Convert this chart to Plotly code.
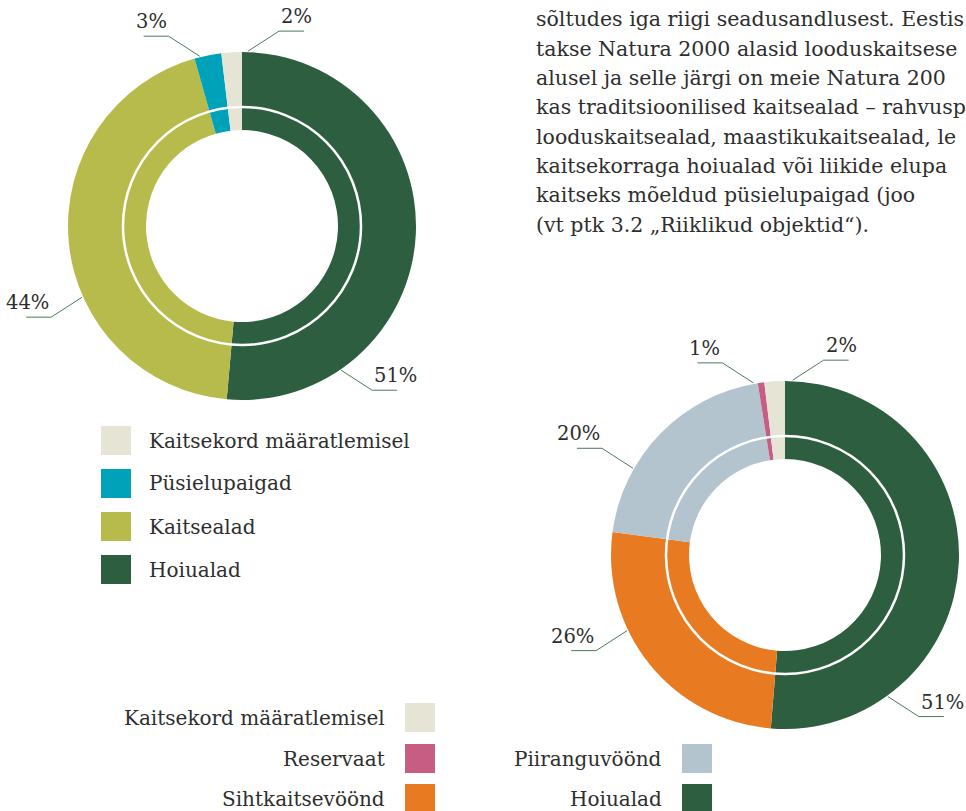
import math
import plotly.graph_objects as go

W, H = 966, 811

# ---------------- data ----------------
c1_labels = ["Hoiualad", "Kaitsealad", "Püsielupaigad", "Kaitsekord määratlemisel"]
c1_values = [51.4, 44.2, 2.5, 1.9]

c2_labels = ["Hoiualad", "Sihtkaitsevöönd", "Piiranguvöönd", "Reservaat", "Kaitsekord määratlemisel"]
c2_values = [51.3, 25.8, 20.4, 0.6, 1.9]

legend1_order = ["Kaitsekord määratlemisel", "Püsielupaigad", "Kaitsealad", "Hoiualad"]
legend2_order = ["Kaitsekord määratlemisel", "Reservaat", "Sihtkaitsevöönd", "Piiranguvöönd", "Hoiualad"]

body_lines = [
    "sõltudes iga riigi seadusandlusest. Eestis",
    "takse Natura 2000 alasid looduskaitsese",
    "alusel ja selle järgi on meie Natura 200",
    "kas traditsioonilised kaitsealad – rahvusp",
    "looduskaitsealad, maastikukaitsealad, le",
    "kaitsekorraga hoiualad või liikide elupa",
    "kaitseks mõeldud püsielupaigad (joo",
    "(vt ptk 3.2 „Riiklikud objektid“).",
]

# ---------------- styles / layout ----------------
colors = {
    "Hoiualad": "#2d5e40",
    "Kaitsealad": "#b6bb4c",
    "Püsielupaigad": "#00a2b9",
    "Kaitsekord määratlemisel": "#e6e4d4",
    "Sihtkaitsevöönd": "#e87b22",
    "Piiranguvöönd": "#b3c4cf",
    "Reservaat": "#c75d82",
}
FONT = "DejaVu Serif"
TXT = "#2e2e2e"
LEADER = "#4a7a5c"

R_OUT, R_IN, R_GAP = 174, 96, 119
charts = [
    dict(cx=242, cy=226, labels=c1_labels, values=c1_values,
         label_angles=[145.5, 246, 346, 2]),
    dict(cx=785, cy=555, labels=c2_labels, values=c2_values,
         label_angles=[144, 244.4, 299.7, 349.6, 2.5]),
]

def px(x):
    return x / W

def py(y):
    return 1 - y / H

fig = go.Figure()
shapes = []
annotations = []

for ch in charts:
    cx, cy = ch["cx"], ch["cy"]
    fig.add_trace(go.Pie(
        labels=ch["labels"], values=ch["values"], sort=False,
        direction="clockwise", rotation=0, hole=R_IN / R_OUT,
        marker=dict(colors=[colors[l] for l in ch["labels"]], line=dict(width=0)),
        textinfo="none", showlegend=False, hoverinfo="label+percent",
        domain=dict(x=[px(cx - R_OUT), px(cx + R_OUT)],
                    y=[py(cy + R_OUT), py(cy - R_OUT)]),
    ))
    # white separating circle
    shapes.append(dict(type="circle", xref="paper", yref="paper",
                       x0=px(cx - R_GAP), x1=px(cx + R_GAP),
                       y0=py(cy + R_GAP), y1=py(cy - R_GAP),
                       line=dict(color="white", width=2.5), layer="above"))
    # leader lines + labels
    for v, ang in zip(ch["values"], ch["label_angles"]):
        t = math.radians(ang)
        sx = cx + (R_OUT + 1) * math.sin(t)
        sy = cy - (R_OUT + 1) * math.cos(t)
        side = 1 if math.sin(t) >= 0 else -1
        vert = -1 if math.cos(t) > 0 else 1
        kx, ky = sx + side * 31, sy + vert * 20
        ex = kx + side * 25
        shapes.append(dict(type="path", xref="paper", yref="paper",
                           path=f"M {px(sx)},{py(sy)} L {px(kx)},{py(ky)} L {px(ex)},{py(ky)}",
                           line=dict(color=LEADER, width=1)))
        annotations.append(dict(
            x=px(kx), y=py(ky - 1), xref="paper", yref="paper",
            text=f"{int(v + 0.5)}%", showarrow=False,
            xanchor="left" if side > 0 else "right", yanchor="bottom",
            font=dict(family=FONT, size=19.5, color=TXT)))

# legend 1 (square on left, text on right)
for i, name in enumerate(legend1_order):
    top = 426 + i * 43
    shapes.append(dict(type="rect", xref="paper", yref="paper",
                       x0=px(101), x1=px(131), y0=py(top + 29), y1=py(top),
                       fillcolor=colors[name], line=dict(width=0)))
    annotations.append(dict(x=px(147), y=py(top + 14.5), xref="paper", yref="paper",
                            text=name, showarrow=False, xanchor="left", yanchor="middle",
                            font=dict(family=FONT, size=20, color=TXT)))

# legend 2 (text right-aligned, square on right), two columns
slots2 = [(0, 0), (0, 1), (0, 2), (1, 1), (1, 2)]
col_x = [405, 682]
row_top = [703, 744, 784]
for name, (c, r) in zip(legend2_order, slots2):
    x0, top = col_x[c], row_top[r]
    shapes.append(dict(type="rect", xref="paper", yref="paper",
                       x0=px(x0), x1=px(x0 + 30), y0=py(top + 29), y1=py(top),
                       fillcolor=colors[name], line=dict(width=0)))
    annotations.append(dict(x=px(x0 - 18), y=py(top + 14.5), xref="paper", yref="paper",
                            text=name, showarrow=False, xanchor="right", yanchor="middle",
                            font=dict(family=FONT, size=20, color=TXT)))

# body text
for i, line in enumerate(body_lines):
    base = 26 + i * 29.3
    annotations.append(dict(x=px(534), y=py(base - 6.5), xref="paper", yref="paper",
                            text=line, showarrow=False, xanchor="left", yanchor="middle",
                            font=dict(family=FONT, size=20.5, color=TXT)))

fig.update_layout(
    width=W, height=H, margin=dict(l=0, r=0, t=0, b=0, pad=0),
    paper_bgcolor="white", plot_bgcolor="white",
    shapes=shapes, annotations=annotations, showlegend=False,
)

fig.write_html(
    "out.html",
    config={"displayModeBar": False},
    post_script="document.body.style.margin='0';document.body.style.overflow='hidden';",
)
